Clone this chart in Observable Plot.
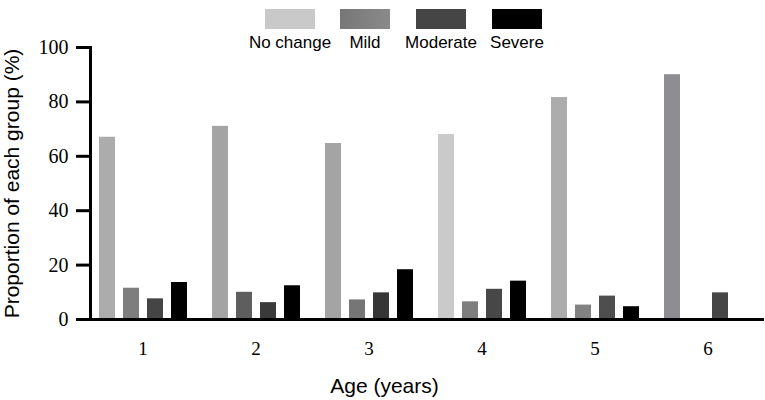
<!DOCTYPE html>
<html>
<head>
<meta charset="utf-8">
<script src="https://cdn.jsdelivr.net/npm/d3@7"></script>
<script src="https://cdn.jsdelivr.net/npm/@observablehq/plot@0.6"></script>
<style>
  html, body { margin: 0; padding: 0; background: #fff; }
  #wrap { width: 765px; height: 400px; position: relative; overflow: hidden; }
  #legend { position: relative; height: 36px; width: 765px; z-index: 2; }
  .sw { position: absolute; top: 9px; width: 50px; height: 20px; }
  .lab { position: absolute; top: 33px; width: 120px; text-align: center; font: 17px "Liberation Sans", Arial, sans-serif; line-height: 20px; color: #000; white-space: nowrap; }
  #chart svg { display: block; }
</style>
</head>
<body>
<div id="wrap">
  <div id="legend"></div>
  <div id="chart"></div>
</div>
<script>
// ---- data ----
const ages = [1, 2, 3, 4, 5, 6];
const categories = ["No change", "Mild", "Moderate", "Severe"];
const noChange = [67, 71, 64.7, 68, 81.6, 90];
const mild = [11.5, 10, 7.2, 6.5, 5.3, 0];
const moderate = [7.6, 6.2, 9.8, 11.1, 8.6, 9.8];
const severe = [13.6, 12.4, 18.3, 14.1, 4.7, 0];
const yTicks = [0, 20, 40, 60, 80, 100];

// ---- styles ----
const legendColors = ["#c9c9c9", "#7f7f7f", "#454545", "#000000"];
const noChangeColors = ["#acacac", "#a4a4a4", "#a4a4a4", "#cacaca", "#acacac", "#8e8e92"];
const mildColors = ["#7e7e7e", "#5e5e5e", "#767676", "#7e7e7e", "#828282", "#828282"];
const moderateColors = ["#454545", "#3a3a3a", "#363636", "#474747", "#4e4e4e", "#454545"];
const severeColors = ["#000000", "#000000", "#000000", "#000000", "#000000", "#000000"];

const series = [noChange, mild, moderate, severe];
const seriesColors = [noChangeColors, mildColors, moderateColors, severeColors];

const rows = [];
ages.forEach((age, i) => {
  categories.forEach((cat, j) => {
    rows.push({age, cat, value: series[j][i], color: seriesColors[j][i]});
  });
});

// ---- legend (HTML above the SVG) ----
const legendSw = [265, 340, 416, 492];
const legend = document.getElementById("legend");
categories.forEach((c, j) => {
  const s = document.createElement("div");
  s.className = "sw";
  s.style.left = legendSw[j] + "px";
  s.style.background = j === 1 ? "linear-gradient(90deg,#777,#8a8a8a)" : legendColors[j];
  legend.appendChild(s);
  const l = document.createElement("div");
  l.className = "lab";
  l.style.left = (legendSw[j] + 25 - 60) + "px";
  l.textContent = c;
  legend.appendChild(l);
});

// ---- chart ----
const serif = "'Liberation Serif', 'Times New Roman', serif";
const sans = "'Liberation Sans', Arial, sans-serif";

const chart = Plot.plot({
  width: 765,
  height: 364,
  marginTop: 11,
  marginBottom: 81,
  marginLeft: 85,
  marginRight: 1,
  style: {background: "transparent", overflow: "visible"},
  fx: {domain: ages, padding: 0},
  x: {domain: categories, paddingInner: 0.34, paddingOuter: 0.5, axis: null},
  y: {domain: [0, 100]},
  color: {type: "identity"},
  marks: [
    Plot.barY(rows.filter(d => d.value > 0), {
      fx: "age", x: "cat", y: "value", fill: "color"
    }),
    Plot.ruleY([0], {stroke: "#000", strokeWidth: 3}),
    Plot.frame({anchor: "left", facetAnchor: "left", insetLeft: 4, stroke: "#000", strokeWidth: 3}),
    Plot.axisY({
      ticks: yTicks, tickSize: 14, tickPadding: 8, strokeWidth: 3, stroke: "#000", dx: 4,
      fontSize: 20, fontFamily: serif, fill: "#000",
      label: "Proportion of each group (%)", labelAnchor: "center", labelArrow: "none", labelOffset: 82
    }),
    Plot.axisFx({
      anchor: "bottom", tickSize: 0, tickPadding: 22, fontSize: 19, fontFamily: serif, fill: "#000",
      label: "Age (years)", labelAnchor: "center", labelArrow: "none", labelOffset: 73
    })
  ]
});

// axis titles in sans-serif
chart.querySelectorAll("g[aria-label$='axis label'] text").forEach(t => {
  t.setAttribute("font-family", sans);
  t.setAttribute("font-size", "21");
});
const fxLabel = chart.querySelector("g[aria-label='fx-axis label']");
if (fxLabel) {
  const tr = fxLabel.getAttribute("transform") || "";
  fxLabel.setAttribute("transform", "translate(-41,0) " + tr);
}
document.getElementById("chart").appendChild(chart);
</script>
</body>
</html>
